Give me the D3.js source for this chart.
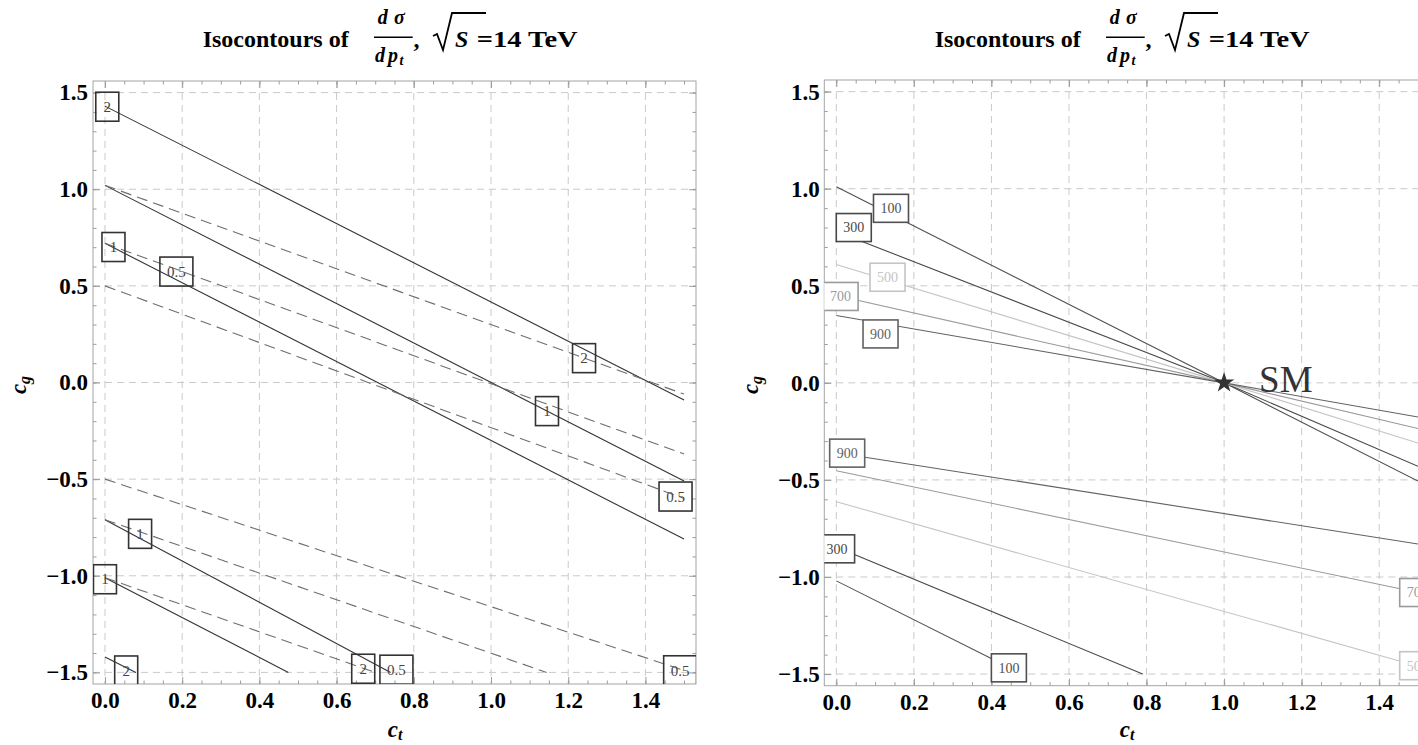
<!DOCTYPE html>
<html>
<head>
<meta charset="utf-8">
<script src="https://cdn.jsdelivr.net/npm/d3@7"></script>
<style>
  body { margin: 0; background: #fff; }
  svg { display: block; }
  .tick text { font-family: "Liberation Serif", serif; font-weight: bold; font-size: 23px; fill: #000; }
</style>
</head>
<body>
<script>
// tick labels
const ctTicks = [0, 0.2, 0.4, 0.6, 0.8, 1.0, 1.2, 1.4];
const cgTicks = [-1.5, -1.0, -0.5, 0, 0.5, 1.0, 1.5];

// left panel, solid contours (levels 2, 1, 0.5 upper then 0.5, 1, 2 lower)
const leftSolid = [
  [[0, 1.43], [1.5, -0.09]],
  [[0, 1.02], [1.5, -0.51]],
  [[0, 0.72], [1.5, -0.81]],
  [[0, -0.71], [0.74, -1.5]],
  [[0, -1.01], [0.475, -1.5]],
  [[0, -1.42], [0.08, -1.5]]
];
// left panel, dashed contours (levels 2, 1, 0.5 upper then 0.5, 1, 2 lower)
const leftDashed = [
  [[0, 1.02], [1.5, -0.06]],
  [[0, 0.72], [1.5, -0.37]],
  [[0, 0.50], [1.5, -0.60]],
  [[0, -0.50], [1.5, -1.49]],
  [[0, -0.71], [1.144, -1.5]],
  [[0, -1.01], [0.70, -1.5]]
];
const leftLabels = [
  { text: "2", ct: 0.006, cg: 1.427 },
  { text: "0.5", ct: 0.185, cg: 0.574 },
  { text: "1", ct: 0.022, cg: 0.701 },
  { text: "2", ct: 1.241, cg: 0.126 },
  { text: "1", ct: 1.145, cg: -0.148 },
  { text: "0.5", ct: 1.478, cg: -0.59 },
  { text: "1", ct: 0.091, cg: -0.783 },
  { text: "1", ct: 0.0, cg: -1.018 },
  { text: "2", ct: 0.055, cg: -1.49 },
  { text: "2", ct: 0.669, cg: -1.481 },
  { text: "0.5", ct: 0.755, cg: -1.486 },
  { text: "0.5", ct: 1.49, cg: -1.489 }
];

// right panel
const rightLevels = [100, 300, 500, 700, 900];
const rightUpper = [
  [[0, 1.01], [1, 0], [1.5, -0.506]],
  [[0, 0.78], [1, 0], [1.5, -0.43]],
  [[0, 0.61], [1, 0], [1.5, -0.31]],
  [[0, 0.45], [1, 0], [1.5, -0.235]],
  [[0, 0.347], [1, 0], [1.5, -0.176]]
];
const rightLower = [
  [[0, -1.02], [0.48, -1.5]],
  [[0, -0.845], [0.79, -1.5]],
  [[0, -0.612], [1.5, -1.46]],
  [[0, -0.453], [1.5, -1.08]],
  [[0, -0.36], [1.5, -0.83]]
];
const rightLabels = [
  { level: 100, ct: 0.141, cg: 0.899 },
  { level: 300, ct: 0.045, cg: 0.80 },
  { level: 500, ct: 0.132, cg: 0.544 },
  { level: 700, ct: 0.011, cg: 0.445 },
  { level: 900, ct: 0.114, cg: 0.252 },
  { level: 900, ct: 0.028, cg: -0.362 },
  { level: 300, ct: 0.002, cg: -0.855 },
  { level: 100, ct: 0.445, cg: -1.468 },
  { level: 700, ct: 1.498, cg: -1.08 },
  { level: 500, ct: 1.498, cg: -1.457 }
];
const smPoint = [1, 0];

const levelColor = { 100: "#505050", 300: "#484848", 500: "#c4c4c4", 700: "#9a9a9a", 900: "#626262" };
const serif = '"Liberation Serif", serif';

const svg = d3.select("body").append("svg")
  .attr("width", 1418)
  .attr("height", 745);

// draws frame, grid, ticks and tick labels of one panel
function drawPanel(frame, id) {
  const x = d3.scaleLinear().domain([-0.031, 1.531]).range([frame.left, frame.right]);
  const y = d3.scaleLinear().domain([-1.56, 1.56]).range([frame.bottom, frame.top]);
  const g = svg.append("g");

  svg.append("clipPath").attr("id", id)
    .append("rect")
    .attr("x", frame.left).attr("y", frame.top)
    .attr("width", frame.right - frame.left)
    .attr("height", frame.bottom - frame.top);

  // grid
  g.selectAll(".vgrid").data(ctTicks).enter().append("line")
    .attr("x1", d => x(d)).attr("x2", d => x(d))
    .attr("y1", frame.top).attr("y2", frame.bottom)
    .attr("stroke", "#cacaca").attr("stroke-dasharray", "7,5");
  g.selectAll(".hgrid").data(cgTicks).enter().append("line")
    .attr("x1", frame.left).attr("x2", frame.right)
    .attr("y1", d => y(d)).attr("y2", d => y(d))
    .attr("stroke", "#cacaca").attr("stroke-dasharray", "7,5");

  const fmt = d3.format(".1f");
  const ctMinor = d3.range(0, 1.55, 0.05);
  const cgMinor = d3.range(-1.5, 1.55, 0.1);

  const axes = [
    [d3.axisBottom(x).tickValues(ctTicks).tickSizeInner(-7).tickPadding(8).tickFormat(fmt), `translate(0,${frame.bottom})`],
    [d3.axisBottom(x).tickValues(ctMinor).tickSizeInner(-3.5).tickFormat(""), `translate(0,${frame.bottom})`],
    [d3.axisTop(x).tickValues(ctTicks).tickSizeInner(-7).tickFormat(""), `translate(0,${frame.top})`],
    [d3.axisTop(x).tickValues(ctMinor).tickSizeInner(-3.5).tickFormat(""), `translate(0,${frame.top})`],
    [d3.axisLeft(y).tickValues(cgTicks).tickSizeInner(-7).tickPadding(frame.pad).tickFormat(fmt), `translate(${frame.left},0)`],
    [d3.axisLeft(y).tickValues(cgMinor).tickSizeInner(-3.5).tickFormat(""), `translate(${frame.left},0)`],
    [d3.axisRight(y).tickValues(cgTicks).tickSizeInner(-7).tickFormat(""), `translate(${frame.right},0)`],
    [d3.axisRight(y).tickValues(cgMinor).tickSizeInner(-3.5).tickFormat(""), `translate(${frame.right},0)`]
  ];
  axes.forEach(([ax, tr]) => {
    const a = g.append("g").attr("transform", tr).call(ax.tickSizeOuter(0));
    a.select(".domain").remove();
    a.selectAll(".tick line").attr("stroke", "#9c9c9c");
  });

  // frame
  g.append("rect")
    .attr("x", frame.left).attr("y", frame.top)
    .attr("width", frame.right - frame.left)
    .attr("height", frame.bottom - frame.top)
    .attr("fill", "none").attr("stroke", "#a4a4a4");

  const plot = svg.append("g").attr("clip-path", `url(#${id})`);
  return { x, y, plot };
}

function drawTitle(dx) {
  const t = svg.append("g")
    .attr("transform", `translate(${dx},0)`)
    .attr("font-family", serif).attr("font-weight", "bold").attr("fill", "#000");
  t.append("text").attr("x", 202.7).attr("y", 46.7).attr("font-size", 24)
    .attr("textLength", 146).attr("lengthAdjust", "spacingAndGlyphs").text("Isocontours of");
  t.append("text").attr("x", 377.7).attr("y", 24).attr("font-size", 20).attr("font-style", "italic").text("d");
  t.append("text").attr("x", 394).attr("y", 24).attr("font-size", 20).attr("font-style", "italic").text("σ");
  t.append("line").attr("x1", 374).attr("x2", 412.7).attr("y1", 37.3).attr("y2", 37.3)
    .attr("stroke", "#000").attr("stroke-width", 1.4);
  t.append("text").attr("x", 375).attr("y", 61.5).attr("font-size", 20).attr("font-style", "italic").text("d");
  t.append("text").attr("x", 388).attr("y", 61.5).attr("font-size", 20).attr("font-style", "italic").text("p");
  t.append("text").attr("x", 399.5).attr("y", 65).attr("font-size", 14).attr("font-style", "italic").text("t");
  t.append("text").attr("x", 413.5).attr("y", 46.7).attr("font-size", 24).text(",");
  t.append("path").attr("d", "M433,36 L437,34 L443,50 L452,13 L486,13")
    .attr("fill", "none").attr("stroke", "#000").attr("stroke-width", 1.8);
  t.append("text").attr("x", 455).attr("y", 46.7).attr("font-size", 24).attr("font-style", "italic").text("S");
  t.append("text").attr("x", 476.7).attr("y", 46.7).attr("font-size", 24)
    .attr("textLength", 101).attr("lengthAdjust", "spacingAndGlyphs").text("=14 TeV");
}

function drawAxisTitles(dx, cx) {
  const yl = svg.append("text")
    .attr("transform", `translate(${26 + dx},385) rotate(-90)`)
    .attr("text-anchor", "middle")
    .attr("font-family", serif).attr("font-weight", "bold").attr("font-style", "italic")
    .attr("font-size", 23);
  yl.append("tspan").text("c");
  yl.append("tspan").attr("font-size", 16).attr("dy", 4).text("g");

  const xl = svg.append("text")
    .attr("x", cx).attr("y", 737)
    .attr("text-anchor", "middle")
    .attr("font-family", serif).attr("font-weight", "bold").attr("font-style", "italic")
    .attr("font-size", 23);
  xl.append("tspan").text("c");
  xl.append("tspan").attr("font-size", 16).attr("dy", 3).text("t");
}

// ---------- left panel ----------
const L = drawPanel({ left: 93, right: 696, top: 81, bottom: 684, pad: 5 }, "clipL");
const lineL = d3.line().x(d => L.x(d[0])).y(d => L.y(d[1]));

L.plot.selectAll(".solid").data(leftSolid).enter().append("path")
  .attr("d", lineL)
  .attr("fill", "none").attr("stroke", "#333").attr("stroke-width", 1.1);
L.plot.selectAll(".dashed").data(leftDashed).enter().append("path")
  .attr("d", lineL)
  .attr("fill", "none").attr("stroke", "#6e6e6e").attr("stroke-width", 1.1)
  .attr("stroke-dasharray", "11,6");

const labL = L.plot.selectAll(".lab").data(leftLabels).enter().append("g")
  .attr("transform", d => `translate(${L.x(d.ct)},${L.y(d.cg)})`);
labL.append("rect")
  .attr("x", d => d.text.length > 1 ? -16.5 : -11.5)
  .attr("width", d => d.text.length > 1 ? 33 : 23)
  .attr("y", -14.5).attr("height", 29)
  .attr("fill", "none").attr("stroke", "#333").attr("stroke-width", 1.6);
labL.append("text")
  .attr("text-anchor", "middle").attr("dy", "0.35em")
  .attr("font-family", serif).attr("font-size", 15).attr("fill", "#444")
  .text(d => d.text);

drawTitle(0);
drawAxisTitles(0, 395);

// ---------- right panel ----------
const R = drawPanel({ left: 824.3, right: 1430, top: 80, bottom: 685.7, pad: 4.5 }, "clipR");
const lineR = d3.line().x(d => R.x(d[0])).y(d => R.y(d[1]));

[rightUpper, rightLower].forEach(set => {
  R.plot.append("g").selectAll("path").data(set).enter().append("path")
    .attr("d", lineR)
    .attr("fill", "none")
    .attr("stroke", (d, i) => levelColor[rightLevels[i]])
    .attr("stroke-width", 1.1);
});

const labR = R.plot.selectAll(".lab").data(rightLabels).enter().append("g")
  .attr("transform", d => `translate(${R.x(d.ct)},${R.y(d.cg)})`);
labR.append("rect")
  .attr("x", -17.5).attr("width", 35)
  .attr("y", -14).attr("height", 28)
  .attr("fill", "#fff").attr("stroke", d => levelColor[d.level]).attr("stroke-width", 1.6);
labR.append("text")
  .attr("text-anchor", "middle").attr("dy", "0.35em")
  .attr("font-family", serif).attr("font-size", 14)
  .attr("fill", d => levelColor[d.level])
  .text(d => d.level);

// SM point
R.plot.append("path")
  .attr("d", d3.symbol(d3.symbolStar, 130))
  .attr("transform", `translate(${R.x(smPoint[0])},${R.y(smPoint[1])})`)
  .attr("fill", "#333");
R.plot.append("text")
  .attr("x", R.x(smPoint[0]) + 35).attr("y", R.y(smPoint[1]) + 9)
  .attr("font-family", serif).attr("font-size", 37).attr("fill", "#333")
  .text("SM");

drawTitle(732);
drawAxisTitles(731.5, 1127);
</script>
</body>
</html>
